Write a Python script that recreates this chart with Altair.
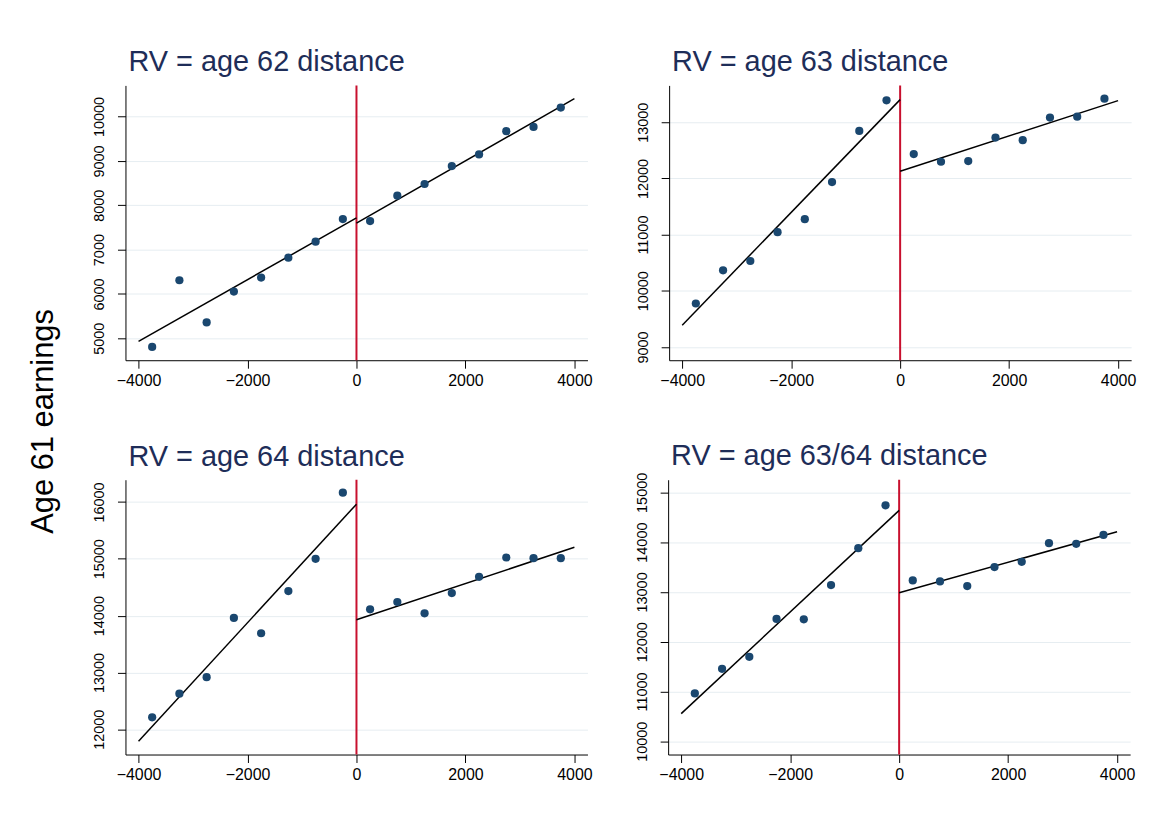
import altair as alt
import pandas as pd

# Bin midpoints of the running variable (distance to the threshold)
distance = [-3750, -3250, -2750, -2250, -1750, -1250, -750, -250,
            250, 750, 1250, 1750, 2250, 2750, 3250, 3750]

# Mean age-61 earnings in each bin, one list per running variable
earn_age62 = [4805, 6309, 5359, 6055, 6370, 6819, 7178, 7688,
              7643, 8217, 8480, 8884, 9147, 9670, 9767, 10202]
earn_age63 = [9774, 10365, 10530, 11044, 11275, 11936, 12846, 13390,
              12433, 12297, 12309, 12728, 12681, 13083, 13100, 13419]
earn_age64 = [12211, 12626, 12918, 13959, 13690, 14433, 15000, 16164,
              14111, 14240, 14041, 14398, 14684, 15023, 15012, 15012]
earn_age6364 = [10961, 11455, 11696, 12457, 12450, 13137, 13878, 14740,
                13231, 13211, 13117, 13498, 13605, 13979, 13966, 14145]

titles = ["RV = age 62 distance", "RV = age 63 distance",
          "RV = age 64 distance", "RV = age 63/64 distance"]
y_domains = [[4506, 10703], [8764, 13656], [11556, 16392], [9733, 15254]]
y_ticks = [[5000, 6000, 7000, 8000, 9000, 10000],
           [9000, 10000, 11000, 12000, 13000],
           [12000, 13000, 14000, 15000, 16000],
           [10000, 11000, 12000, 13000, 14000, 15000]]
x_ticks = [-4000, -2000, 0, 2000, 4000]
# The top tick label of the last panel pokes above its frame; nudge its title back
title_dy = [0, 0, 0, 6]

FONT = "Liberation Sans"
NAVY = "#1a476f"
TITLE_COLOR = "#1e2d58"
CUTOFF_RED = "#c8102e"
PANEL_W, PANEL_H = 464, 276


def panel(title, values, y_domain, ticks, dy):
    df = pd.DataFrame({"distance": distance, "earnings": values})
    base = alt.Chart(df)

    x = alt.X(
        "distance:Q",
        title=None,
        scale=alt.Scale(domain=[-4240, 4240], nice=False, zero=False),
        axis=alt.Axis(values=x_ticks, format="d", grid=False, labelFontSize=16,
                      labelPadding=4, tickSize=8, labelFlush=False),
    )
    y = alt.Y(
        "earnings:Q",
        title=None,
        scale=alt.Scale(domain=y_domain, nice=False, zero=False),
        axis=alt.Axis(values=ticks, format="d", grid=True, labelFontSize=14.5,
                      labelAngle=270, labelAlign="center",
                      labelBaseline="bottom", labelPadding=11, tickSize=8,
                      labelOverlap=False, labelFlush=False),
    )

    points = base.mark_circle(size=68, color=NAVY, opacity=1).encode(x=x, y=y)

    fit_left = (
        base.transform_filter("datum.distance < 0")
        .transform_regression("distance", "earnings", extent=[-4000, 0])
        .mark_line(color="black", strokeWidth=1.5)
        .encode(x="distance:Q", y="earnings:Q")
    )
    fit_right = (
        base.transform_filter("datum.distance > 0")
        .transform_regression("distance", "earnings", extent=[0, 4000])
        .mark_line(color="black", strokeWidth=1.5)
        .encode(x="distance:Q", y="earnings:Q")
    )
    cutoff = (
        alt.Chart(pd.DataFrame({"cut": [0]}))
        .mark_rule(color=CUTOFF_RED, strokeWidth=2)
        .encode(x="cut:Q")
    )

    return alt.layer(cutoff, fit_left, fit_right, points).properties(
        width=PANEL_W,
        height=PANEL_H,
        title=alt.TitleParams(
            title, anchor="start", frame="group", fontSize=29, font=FONT,
            fontWeight="normal", color=TITLE_COLOR, baseline="bottom",
            offset=-22, dx=3, dy=dy,
        ),
    )


series = [earn_age62, earn_age63, earn_age64, earn_age6364]
charts = [panel(t, v, d, k, o)
          for t, v, d, k, o in zip(titles, series, y_domains, y_ticks, title_dy)]

chart = (
    alt.vconcat(
        alt.hconcat(charts[0], charts[1], spacing=42),
        alt.hconcat(charts[2], charts[3], spacing=42),
        spacing=54,
    )
    .properties(
        title=alt.TitleParams(
            "Age 61 earnings", orient="left", anchor="middle", fontSize=31,
            font=FONT, fontWeight="normal", color="black", offset=32, dx=-6,
        ),
        padding={"left": 27, "top": 47, "right": 30, "bottom": 40},
        background="white",
    )
    .configure_view(stroke=None)
    .configure_axis(
        domainColor="black", domainWidth=1, tickColor="black", tickWidth=1,
        labelColor="black", labelFont=FONT, gridColor="#e6edf1", gridWidth=1,
    )
)

chart.save("out.html", embed_options={"renderer": "svg", "actions": False})
